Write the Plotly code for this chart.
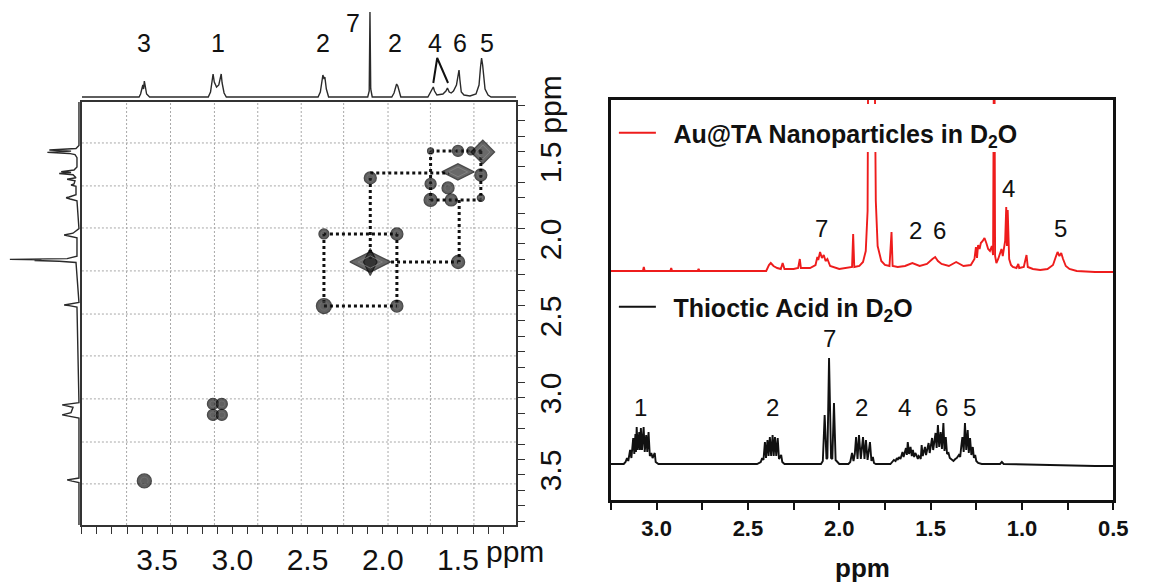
import plotly.graph_objects as go

W, H = 1150, 586
FONT = "Liberation Sans, Arial, sans-serif"

# ======================= DATA =======================
# ---- 2D COSY panel ----
grid_x_ppm = [3.703, 3.411, 3.119, 2.831, 2.542, 2.260, 1.965, 1.683, 1.394]
grid_y_ppm = [1.344, 1.623, 1.896, 2.175, 2.455, 2.727, 3.006, 3.286, 3.558]

# off-diagonal / round cross peaks (x ppm, y ppm, relative volume)
cp_x = [1.500, 1.414, 1.682, 1.348, 1.348, 1.682, 1.682, 1.545, 1.566,
        2.083, 1.906, 2.391, 1.499, 2.391, 1.906,
        3.129, 3.070, 3.129, 3.070, 3.585]
cp_y = [1.396, 1.396, 1.396, 1.552, 1.701, 1.610, 1.714, 1.714, 1.636,
        1.571, 1.935, 1.935, 2.117, 2.403, 2.403,
        3.039, 3.039, 3.110, 3.110, 3.539]
cp_vol = [11, 8, 6, 12, 7, 11, 13, 12, 12,
          12, 12, 10, 13, 15, 12,
          11, 11, 11, 11, 14]

# diagonal peaks (diamond shaped contours)
diag_x = [1.335, 1.500, 2.083]
diag_y = [1.403, 1.532, 2.117]
diag_vol = [18, 23, 29]

# dotted connectivity segments
seg_x0 = [1.682, 2.083, 1.682, 2.391, 1.945, 2.391, 1.682, 1.492, 1.348, 2.083, 2.391, 1.906]
seg_y0 = [1.396, 1.539, 1.714, 1.935, 2.117, 2.403, 1.396, 1.714, 1.396, 1.571, 1.935, 1.935]
seg_x1 = [1.335, 1.558, 1.335, 1.906, 1.499, 1.906, 1.682, 1.492, 1.348, 2.083, 2.391, 1.906]
seg_y1 = [1.396, 1.539, 1.714, 1.935, 2.117, 2.403, 1.714, 2.117, 1.714, 2.117, 2.403, 2.403]

# top 1D projection (ppm, intensity)
top_ppm = [4.0, 3.62, 3.61, 3.595, 3.59, 3.585, 3.578, 3.57, 3.55,
           3.16, 3.145, 3.135, 3.128, 3.12, 3.105, 3.09, 3.08, 3.074, 3.068, 3.055, 3.04,
           2.43, 2.415, 2.405, 2.398, 2.39, 2.385, 2.375, 2.36,
           2.10, 2.09, 2.085, 2.08, 2.07,
           1.94, 1.925, 1.915, 1.908, 1.90, 1.89, 1.88,
           1.70, 1.685, 1.672, 1.664, 1.656, 1.64, 1.60, 1.58, 1.57, 1.566, 1.558, 1.545,
           1.53, 1.51, 1.50, 1.493, 1.487, 1.478, 1.46, 1.42, 1.38, 1.36, 1.35, 1.343,
           1.336, 1.33, 1.32, 1.30, 1.28, 1.113]
top_int = [0, 0, 3, 12, 8, 16, 10, 3, 0,
           0, 5, 18, 23, 15, 10, 12, 20, 23, 14, 4, 0,
           0, 5, 16, 22, 18, 20, 8, 0,
           0, 6, 85, 8, 0,
           0, 4, 10, 13, 11, 4, 0,
           0, 4, 8, 10, 6, 2, 3, 6, 9, 7, 5, 4,
           6, 12, 20, 27, 17, 5, 2, 1, 3, 12, 30, 39,
           32, 20, 8, 2, 0, 0]
top_labels = ["3", "1", "2", "7", "2", "4", "6", "5"]
top_label_x = [3.585, 3.093, 2.398, 2.201, 1.920, 1.651, 1.487, 1.310]
top_label_y = [54, 54, 54, 74, 54, 54, 54, 54]
caret_x = [1.664, 1.638, 1.566]
caret_y = [14, 39, 14]

# left 1D projection (ppm, intensity)
left_ppm = [1.078, 1.36, 1.38, 1.39, 1.397, 1.405, 1.412, 1.42, 1.44, 1.50, 1.52, 1.53,
            1.536, 1.542, 1.55, 1.57, 1.58, 1.59, 1.61, 1.617, 1.625, 1.68, 1.695, 1.70,
            1.708, 1.72, 1.90, 1.93, 1.942, 1.95, 1.96, 2.08, 2.095, 2.10, 2.103, 2.107,
            2.112, 2.12, 2.38, 2.39, 2.396, 2.40, 2.41, 3.03, 3.04, 3.045, 3.06, 3.095,
            3.11, 3.12, 3.13, 3.52, 3.528, 3.532, 3.54, 3.55, 3.825]
left_int = [0, 0, 3, 30, 8, 32, 10, 4, 2, 2, 5, 18,
            8, 20, 6, 3, 12, 4, 5, 8, 3, 3, 10, 13,
            9, 2, 0, 6, 15, 8, 2, 2, 12, 70, 38, 45,
            20, 3, 0, 8, 15, 10, 2, 0, 10, 17, 6, 8,
            17, 6, 0, 0, 8, 12, 7, 0, 0]

# ---- right panel 1H spectra ----
black_ppm = [3.25, 3.18, 3.17,
             3.162, 3.155, 3.145, 3.138, 3.128, 3.122, 3.116, 3.113, 3.109, 3.103, 3.095,
             3.091, 3.086, 3.080, 3.071, 3.065, 3.057, 3.051, 3.044, 3.037, 3.029, 3.022,
             3.010, 3.005, 2.99,
             2.45, 2.43, 2.422, 2.415, 2.407, 2.401, 2.393, 2.387, 2.380, 2.373, 2.365,
             2.359, 2.352, 2.345, 2.337, 2.330, 2.318, 2.312, 2.30,
             2.10, 2.09, 2.080, 2.070, 2.065, 2.056, 2.045, 2.038, 2.029, 2.02, 2.00,
             1.95, 1.94, 1.930, 1.922, 1.915, 1.908, 1.900, 1.892, 1.882, 1.876, 1.870,
             1.862, 1.854, 1.845, 1.838, 1.832, 1.824, 1.816, 1.810, 1.80,
             1.72, 1.71, 1.701, 1.692, 1.685, 1.680, 1.673, 1.665, 1.660, 1.654, 1.648,
             1.641, 1.635, 1.630, 1.625, 1.618, 1.610, 1.603, 1.597, 1.590, 1.584, 1.578,
             1.570, 1.565, 1.559, 1.554,
             1.549, 1.543, 1.537, 1.531, 1.525, 1.518, 1.511, 1.505, 1.498, 1.492, 1.486,
             1.480, 1.473, 1.467, 1.460, 1.453, 1.445, 1.438, 1.430, 1.424, 1.417, 1.410,
             1.402, 1.395, 1.385, 1.375, 1.365,
             1.357, 1.345, 1.338, 1.332, 1.326, 1.319, 1.312, 1.305, 1.297, 1.291, 1.284,
             1.277, 1.269, 1.263, 1.256, 1.250, 1.24, 1.22,
             1.12, 1.11, 1.10, 0.60, 0.50]
black_int = [0, 0, 2,
             6, 3, 14, 6, 26, 10, 30, 12, 37, 14, 32,
             14, 36, 14, 37, 12, 29, 12, 32, 8, 11, 6,
             11, 2, 0,
             0, 2, 6, 4, 22, 6, 24, 8, 27, 8, 29,
             8, 27, 8, 26, 5, 9, 2, 0,
             0, 3, 49, 5, 6, 106, 6, 5, 61, 4, 0,
             0, 2, 11, 3, 10, 27, 5, 29, 5, 15, 27,
             5, 24, 4, 12, 22, 3, 7, 1, 0,
             0, 2, 4, 3, 6, 4, 7, 5, 10, 12, 7,
             14, 16, 9, 22, 10, 17, 8, 14, 7, 11, 9,
             5, 8, 7, 5,
             19, 8, 14, 17, 9, 16, 21, 11, 20, 26, 14,
             22, 31, 16, 39, 17, 32, 15, 41, 13, 27, 10,
             11, 6, 4, 3, 5,
             6, 9, 7, 18, 27, 12, 41, 14, 34, 11, 26,
             9, 17, 6, 9, 3, 1, 0,
             0, 2, 0, -2, -2]

red_ppm = [3.25, 3.075, 3.07, 3.065, 2.925, 2.92, 2.915, 2.775, 2.77, 2.765,
           2.40, 2.385, 2.375, 2.36, 2.34, 2.32, 2.31, 2.30, 2.25, 2.225, 2.216, 2.21,
           2.16, 2.13, 2.12, 2.115, 2.105, 2.095, 2.085, 2.075, 2.065, 2.05, 2.00,
           1.95, 1.93, 1.924, 1.918, 1.89, 1.87, 1.855, 1.845, 1.84, 1.81, 1.80, 1.79,
           1.77, 1.75, 1.725, 1.714, 1.708, 1.68, 1.64, 1.60, 1.56, 1.52, 1.49, 1.475,
           1.46, 1.44, 1.40, 1.36, 1.32, 1.28, 1.26, 1.252, 1.246, 1.24, 1.232, 1.225,
           1.215, 1.205, 1.195, 1.185, 1.175, 1.165, 1.158, 1.152, 1.147, 1.14, 1.13,
           1.12, 1.112, 1.105, 1.098, 1.092, 1.086, 1.082, 1.078, 1.07, 1.06, 1.05,
           1.03, 1.02, 1.015, 0.99, 0.975, 0.968, 0.94, 0.90, 0.86, 0.83, 0.815, 0.805,
           0.795, 0.785, 0.775, 0.76, 0.74, 0.70, 0.60, 0.50]
red_int = [0, 0, 4, 0, 0, 3, 0, 0, 2, 0,
           0, 6, 8, 5, 3, 2, 8, 2, 2, 3, 12, 3,
           3, 6, 14, 11, 19, 13, 16, 10, 12, 5, 2,
           3, 4, 37, 4, 5, 9, 20, 60, 300, 300, 70, 25,
           10, 6, 5, 39, 5, 4, 5, 8, 5, 7, 12, 14,
           10, 7, 5, 9, 5, 6, 12, 24, 13, 26, 22, 28,
           30, 33, 28, 22, 20, 25, 16, 300, 15, 8, 12,
           18, 22, 15, 24, 30, 64, 25, 61, 12, 6, 4,
           3, 7, 3, 4, 16, 4, 2, 1, 2, 6, 14, 19,
           15, 18, 12, 5, 2, 0, -1, -1]

red_labels = ["7", "2", "6", "4", "5"]
red_label_x = [2.097, 1.584, 1.449, 1.076, 0.789]
red_label_y = [43, 41, 41, 83, 43]
black_labels = ["1", "2", "7", "2", "4", "6", "5"]
black_label_x = [3.086, 2.368, 2.054, 1.881, 1.643, 1.438, 1.286]
black_label_y = [57, 57, 126, 57, 57, 57, 57]

# ======================= FIGURE =======================
def px_x(p):
    return p / W


def px_y(p):
    return 1 - p / H


RED_OFFSET = 193  # vertical stacking offset of the red spectrum

fig = go.Figure()

# --- grid lines of the 2D map (faint dotted) ---
shapes = []
for g in grid_x_ppm:
    shapes.append(dict(type="line", xref="x", yref="y domain", x0=g, x1=g, y0=0, y1=1,
                       line=dict(color="#a8a8a8", width=1, dash="2px,2px"), layer="below"))
for g in grid_y_ppm:
    shapes.append(dict(type="line", xref="x domain", yref="y", x0=0, x1=1, y0=g, y1=g,
                       line=dict(color="#a8a8a8", width=1, dash="2px,2px"), layer="below"))

# --- dotted connectivity lines ---
cx, cy = [], []
for a, b, c, d in zip(seg_x0, seg_y0, seg_x1, seg_y1):
    cx += [a, c, None]
    cy += [b, d, None]
fig.add_trace(go.Scatter(x=cx, y=cy, mode="lines", xaxis="x", yaxis="y",
                         line=dict(color="#111", width=3, dash="3px,3px"),
                         showlegend=False, hoverinfo="skip"))

# --- cross peaks (contour-like markers) ---
fig.add_trace(go.Scatter(x=cp_x, y=cp_y, mode="markers", xaxis="x", yaxis="y",
                         marker=dict(symbol="circle", size=cp_vol, color="#1e1e1e",
                                     line=dict(color="#000", width=1.3)),
                         showlegend=False, hoverinfo="skip"))
fig.add_trace(go.Scatter(x=cp_x, y=cp_y, mode="markers", xaxis="x", yaxis="y",
                         marker=dict(symbol="circle-open", size=[v * 0.55 for v in cp_vol],
                                     color="#7a7a7a", line=dict(width=0.8)),
                         showlegend=False, hoverinfo="skip"))
diag_sym = ["diamond", "diamond-wide", "diamond-wide"]
fig.add_trace(go.Scatter(x=diag_x, y=diag_y, mode="markers", xaxis="x", yaxis="y",
                         marker=dict(symbol=diag_sym, size=diag_vol, color="#2a2a2a",
                                     line=dict(color="#000", width=1.4)),
                         showlegend=False, hoverinfo="skip"))
fig.add_trace(go.Scatter(x=diag_x[2:], y=diag_y[2:], mode="markers", xaxis="x", yaxis="y",
                         marker=dict(symbol="diamond-tall", size=[v * 0.66 for v in diag_vol[2:]],
                                     color="#1e1e1e", line=dict(color="#000", width=1.2)),
                         showlegend=False, hoverinfo="skip"))
fig.add_trace(go.Scatter(x=diag_x, y=diag_y, mode="markers", xaxis="x", yaxis="y",
                         marker=dict(symbol=[s + "-open" for s in diag_sym],
                                     size=[v * 0.6 for v in diag_vol],
                                     color="#8a8a8a", line=dict(width=1)),
                         showlegend=False, hoverinfo="skip"))

# --- projections ---
fig.add_trace(go.Scatter(x=top_ppm, y=top_int, mode="lines", xaxis="x2", yaxis="y2",
                         line=dict(color="#2a2a2a", width=1.4), showlegend=False, hoverinfo="skip"))
fig.add_trace(go.Scatter(x=caret_x, y=caret_y, mode="lines", xaxis="x2", yaxis="y2",
                         line=dict(color="#111", width=2), showlegend=False, hoverinfo="skip"))
fig.add_trace(go.Scatter(x=left_int, y=left_ppm, mode="lines", xaxis="x3", yaxis="y3",
                         line=dict(color="#2a2a2a", width=1.4), showlegend=False, hoverinfo="skip"))

# --- 1H spectra (right) ---
fig.add_trace(go.Scatter(x=red_ppm, y=[v + RED_OFFSET for v in red_int], mode="lines",
                         xaxis="x4", yaxis="y4", line=dict(color="#ee1c1c", width=1.9),
                         name="\u2002<b>Au@TA Nanoparticles in D<sub>2</sub>O</b>",
                         legend="legend", hoverinfo="skip"))
fig.add_trace(go.Scatter(x=black_ppm, y=black_int, mode="lines",
                         xaxis="x4", yaxis="y4", line=dict(color="#111", width=1.9),
                         name="\u2002<b>Thioctic Acid in D<sub>2</sub>O</b>",
                         legend="legend2", hoverinfo="skip"))

# white mask where the legend interrupts the tall red peaks
shapes.append(dict(type="rect", xref="x4 domain", yref="y4", x0=0.004, x1=0.996,
                   y0=312, y1=360, fillcolor="white", line=dict(width=0), layer="above"))

# --- annotations ---
ann = []
C = dict(showarrow=False, xanchor="center", yanchor="middle")
for t, x, y in zip(top_labels, top_label_x, top_label_y):
    ann.append(dict(text=t, x=x, y=y, xref="x2", yref="y2",
                    font=dict(family=FONT, size=25, color="#111"), **C))
for t, x, y in zip(red_labels, red_label_x, red_label_y):
    ann.append(dict(text=t, x=x, y=y + RED_OFFSET, xref="x4", yref="y4",
                    font=dict(family=FONT, size=24, color="#111"), **C))
for t, x, y in zip(black_labels, black_label_x, black_label_y):
    ann.append(dict(text=t, x=x, y=y, xref="x4", yref="y4",
                    font=dict(family=FONT, size=24, color="#111"), **C))
ann.append(dict(text="ppm", x=px_x(522), y=px_y(551), xref="paper", yref="paper",
                font=dict(family=FONT, size=30, color="#111"), **C))
ann.append(dict(text="ppm", x=px_x(557), y=px_y(105), xref="paper", yref="paper",
                textangle=-90, font=dict(family=FONT, size=30, color="#111"), **C))
ann.append(dict(text="<b>ppm</b>", x=0.5, y=px_y(568), xref="x4 domain", yref="paper",
                font=dict(family=FONT, size=26, color="#111"), **C))

# --- axes ---
ax2d_x = dict(domain=[px_x(83), px_x(523)], range=[4.0, 1.113], anchor="y",
              showline=True, mirror=True, linecolor="#333", linewidth=1.5,
              ticks="outside", ticklen=7, tickwidth=1.2, tickcolor="#333",
              tickvals=[3.5, 3.0, 2.5, 2.0, 1.5], tickformat=".1f",
              minor=dict(dtick=0.1, tick0=0, ticks="outside", ticklen=7, tickwidth=1.2,
                         tickcolor="#333", showgrid=False),
              tickfont=dict(family=FONT, size=30, color="#111"),
              showgrid=False, zeroline=False)
ax2d_y = dict(domain=[px_y(525), px_y(102)], range=[3.825, 1.078], anchor="x", side="right",
              showline=True, mirror=True, linecolor="#333", linewidth=1.5,
              ticks="outside", ticklen=7, tickwidth=1.2, tickcolor="#333",
              tickvals=[1.5, 2.0, 2.5, 3.0, 3.5], tickformat=".1f", tickangle=-90,
              minor=dict(dtick=0.1, tick0=0, ticks="outside", ticklen=7, tickwidth=1.2,
                         tickcolor="#333", showgrid=False),
              tickfont=dict(family=FONT, size=30, color="#111"),
              showgrid=False, zeroline=False)
hidden = dict(visible=False, showgrid=False, zeroline=False)

fig.update_layout(
    width=W, height=H,
    margin=dict(l=0, r=0, t=0, b=0),
    paper_bgcolor="white", plot_bgcolor="rgba(0,0,0,0)",
    font=dict(family=FONT, color="#111"),
    xaxis=ax2d_x, yaxis=ax2d_y,
    xaxis2=dict(domain=[px_x(83), px_x(523)], range=[4.0, 1.113], anchor="y2", **hidden),
    yaxis2=dict(domain=[px_y(101), 1.0], range=[-4, 97], anchor="x2", **hidden),
    xaxis3=dict(domain=[0.0, px_x(84)], range=[80, -4], anchor="y3", **hidden),
    yaxis3=dict(domain=[px_y(525), px_y(102)], range=[3.825, 1.078], anchor="x3", **hidden),
    xaxis4=dict(domain=[px_x(619), px_x(1128)], range=[3.25, 0.5], anchor="y4",
                showline=True, mirror=True, linecolor="#111", linewidth=2.5,
                ticks="outside", ticklen=7, tickwidth=2, tickcolor="#111",
                dtick=0.5, tick0=0, tickformat=".1f",
                minor=dict(dtick=0.25, tick0=0, ticks="outside", ticklen=7, tickwidth=2,
                           tickcolor="#111", showgrid=False),
                tickfont=dict(family=FONT, size=22, color="#111", weight="bold"),
                showgrid=False, zeroline=False),
    yaxis4=dict(domain=[px_y(500), px_y(100)], range=[-36, 364], anchor="x4",
                showline=True, mirror=True, linecolor="#111", linewidth=2.5,
                showticklabels=False, ticks="", showgrid=False, zeroline=False),
    legend=dict(x=px_x(622), y=px_y(110), xanchor="left", yanchor="top",
                bgcolor="rgba(0,0,0,0)", borderwidth=0, itemwidth=37,
                font=dict(family=FONT, size=25, color="#111")),
    legend2=dict(x=px_x(622), y=px_y(284), xanchor="left", yanchor="top",
                 bgcolor="rgba(0,0,0,0)", borderwidth=0, itemwidth=37,
                 font=dict(family=FONT, size=25, color="#111")),
    shapes=shapes,
    annotations=ann,
)

fig.write_html("out.html")
